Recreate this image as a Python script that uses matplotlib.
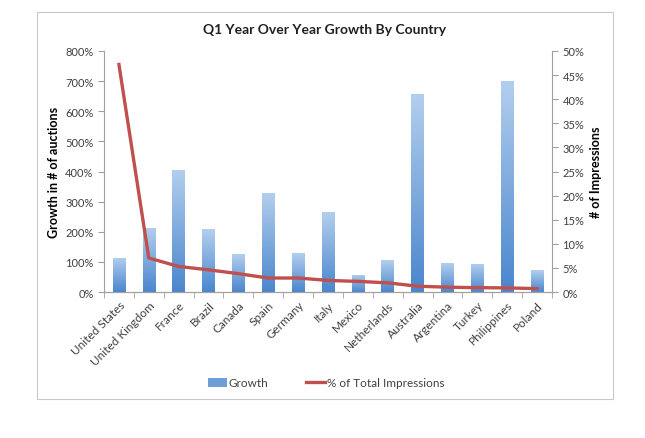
import matplotlib
matplotlib.use("Agg")
import matplotlib.pyplot as plt
import numpy as np
from matplotlib.colors import LinearSegmentedColormap
from matplotlib.patches import Rectangle, Patch
from matplotlib.lines import Line2D
from matplotlib.ticker import FuncFormatter, MultipleLocator

countries = ["United States", "United Kingdom", "France", "Brazil", "Canada", "Spain",
             "Germany", "Italy", "Mexico", "Netherlands", "Australia", "Argentina",
             "Turkey", "Philippines", "Poland"]
growth = [113, 213, 406, 209, 125, 330, 128, 265, 58, 105, 656, 95, 93, 702, 72]
impressions = [47.2, 7.05, 5.3, 4.6, 3.8, 2.9, 2.9, 2.4, 2.2, 1.9, 1.2, 1.0, 0.9, 0.85, 0.7]

plt.rcParams['font.family'] = ['Lato', 'DejaVu Sans']
W, H = 645, 439
fig = plt.figure(figsize=(W / 100, H / 100), dpi=100)
fig.patch.set_facecolor('white')

# outer chart frame
fig.patches.append(Rectangle((37 / W, 1 - 400 / H), (613 - 37) / W, (400 - 13) / H,
                             transform=fig.transFigure, fill=False, edgecolor='#c8c8c8',
                             linewidth=0.8))

ax = fig.add_axes([104 / W, 1 - 293 / H, (552 - 104) / W, (293 - 52) / H])
ax2 = ax.twinx()

x = np.arange(len(countries))
bars = ax.bar(x, growth, width=0.42, color='#7aa7dc', zorder=2)
cmap = LinearSegmentedColormap.from_list('g', ['#4a86cd', '#b3cfee'])
grad = np.linspace(0, 1, 256).reshape(-1, 1)
for b in bars:
    x0, y0 = b.get_x(), b.get_y()
    w, h = b.get_width(), b.get_height()
    im = ax.imshow(grad, cmap=cmap, aspect='auto', origin='lower',
                   extent=[x0, x0 + w, y0, y0 + h], zorder=2)
    im.set_clip_path(b)
    b.set_alpha(0)

ax.set_xlim(-0.5, len(countries) - 0.5)
ax.set_ylim(0, 800)
ax.yaxis.set_major_locator(MultipleLocator(100))
ax.yaxis.set_major_formatter(FuncFormatter(lambda v, p: f"{int(v)}%"))
ax2.plot(x, impressions, color='#c0504d', linewidth=2.4, zorder=3)
ax2.set_ylim(0, 50)
ax2.yaxis.set_major_locator(MultipleLocator(5))
ax2.yaxis.set_major_formatter(FuncFormatter(lambda v, p: f"{int(v)}%"))

ax.set_xticks(x)
ax.set_xticklabels(countries, rotation=45, ha='right', rotation_mode='anchor',
                   fontsize=8.5, color='#404040')
ax.set_xticks(np.arange(-0.5, len(countries), 1), minor=True)
ax.tick_params(axis='x', which='major', length=0, pad=5)
ax.tick_params(axis='x', which='minor', length=4, color='#a0a0a0')
ax.tick_params(axis='y', labelsize=8, labelcolor='#404040', color='#a0a0a0', length=4)
ax2.tick_params(axis='y', labelsize=8, labelcolor='#404040', color='#a0a0a0', length=4)

for a in (ax, ax2):
    a.spines['top'].set_visible(False)
    a.spines['left'].set_color('#a0a0a0')
    a.spines['right'].set_color('#a0a0a0')
    a.spines['bottom'].set_color('#a0a0a0')
ax.spines['right'].set_visible(False)
ax2.spines['left'].set_visible(False)
ax2.patch.set_visible(False)

ax.set_ylabel('Growth in # of auctions', fontsize=9, fontweight='bold', labelpad=4)
ax2.set_ylabel('# of Impressions', fontsize=9, fontweight='bold', labelpad=4)
fig.text(0.5 * (37 + 613) / W, 1 - 30 / H, 'Q1 Year Over Year Growth By Country',
         ha='center', va='center', fontsize=10, fontweight='bold', color='#202020')

handles = [Patch(facecolor='#6f9fd8', edgecolor='none'),
           Line2D([0], [0], color='#c0504d', linewidth=2.4)]
fig.legend(handles, ['Growth', '% of Total Impressions'], loc='center',
           bbox_to_anchor=(326 / W, 1 - 384 / H), ncol=2, frameon=False,
           fontsize=8.5, handlelength=1.6, handletextpad=0.15, columnspacing=3.2,
           labelcolor='#404040')

fig.savefig('out.png', dpi=100, facecolor='white')
